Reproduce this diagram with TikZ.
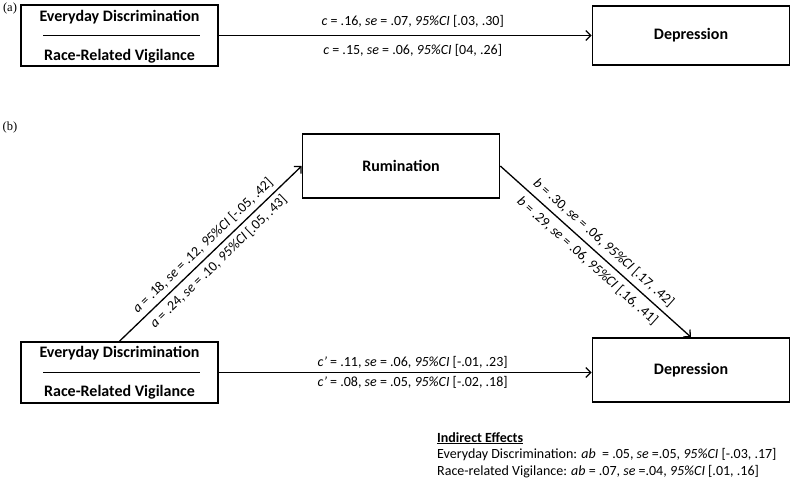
\documentclass[tikz,border=0pt]{standalone}
\usepackage{fontspec}
\setmainfont{Carlito}
\newfontfamily\panelfont{Liberation Serif}
\usetikzlibrary{arrows.meta}

\tikzset{
  varbox/.style={draw, line width=1.6pt, minimum width=197pt, minimum height=62pt,
    inner sep=0pt, font=\bfseries\fontsize{16}{18}\selectfont},
  vname/.style={font=\bfseries\fontsize{16}{18}\selectfont, inner sep=0pt},
  effect/.style={line width=1.3pt, -{Straight Barb[length=5pt,width=10pt]}},
  est/.style={font=\fontsize{14}{16.5}\selectfont, inner sep=1pt},
  divider/.style={line width=1.6pt},
  panel/.style={font=\panelfont\fontsize{12.5}{13}\selectfont, inner sep=0pt},
}

\begin{document}
\begin{tikzpicture}[x=1pt,y=-1pt]
      \useasboundingbox (0,0) rectangle (800,481) ;
      % (a) total effect
      \node[panel] (pa) at (10,8) {(a)} ;
      \node[varbox, minimum height=61pt] (xa) at (119.5,35.5) {} ;
      \node[vname] (xa1) at (119.5,17) {Everyday Discrimination} ;
      \node[vname] (xa2) at (119.5,56) {Race-Related Vigilance} ;
      \draw[divider] ([xshift=-76.5pt]xa.center) -- ([xshift=80.5pt]xa.center) ;
      \node[varbox, minimum height=59pt] (ya) at (691,35.5) {Depression} ;
      \draw[effect] (xa.east) -- (ya.west) %
      node[est, pos=0.52, above=6pt] {\textit{c} = .16, \textit{se} = .07, \textit{95\%CI} [.03, .30]} %
      node[est, pos=0.52, below=7pt] {\textit{c} = .15, \textit{se} = .06, \textit{95\%CI} [04, .26]} ;
      % (b) mediation model
      \node[panel] (pb) at (10,127) {(b)} ;
      \node[varbox, minimum height=64pt] (med) at (401,166) {Rumination} ;
      \node[varbox, minimum height=61pt] (xb) at (119.5,372.5) {} ;
      \node[vname] (xb1) at (119.5,353) {Everyday Discrimination} ;
      \node[vname] (xb2) at (119.5,392) {Race-Related Vigilance} ;
      \draw[divider] ([xshift=-76.5pt]xb.center) -- ([xshift=80.5pt]xb.center) ;
      \node[varbox, minimum height=64pt] (yb) at (691,370) {Depression} ;
      \draw[effect] (xb.north) -- (med.west) %
      node[est, midway, sloped, above=3.5pt] {\textit{a} = .18, \textit{se} = .12, \textit{95\%CI} [-.05, .42]} %
      node[est, midway, sloped, below=3.5pt] {\textit{a} = .24, \textit{se} = .10, \textit{95\%CI} [.05, .43]} ;
      \draw[effect] (med.east) -- (yb.north) %
      node[est, midway, sloped, above=4.5pt] {\textit{b} = .30, \textit{se} = .06, \textit{95\%CI} [.17, .42]} %
      node[est, midway, sloped, below=4.5pt] {\textit{b} = .29, \textit{se} = .06, \textit{95\%CI} [.16, .41]} ;
      \draw[effect] (xb.east) -- (xb.east -| yb.west) %
      node[est, pos=0.52, above=2pt] {\textit{c'} = .11, \textit{se} = .06, \textit{95\%CI} [-.01, .23]} %
      node[est, pos=0.52, below=2pt] {\textit{c'} = .08, \textit{se} = .05, \textit{95\%CI} [-.02, .18]} ;
      % indirect effects
      \node[est, anchor=north west, align=left] (ind) at (436,431) %
      {\underline{\textbf{Indirect Effects}}\\
       Everyday Discrimination: \textit{ab}\ \ = .05, \textit{se} =.05, \textit{95\%CI} [-.03, .17]\\
       Race-related Vigilance: \textit{ab} = .07, \textit{se} =.04, \textit{95\%CI} [.01, .16]} ;
    \end{tikzpicture}
\end{document}
